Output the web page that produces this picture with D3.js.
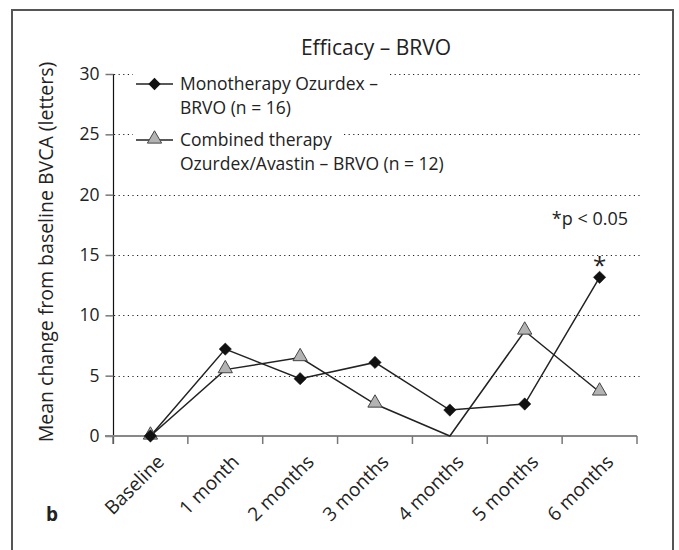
<!DOCTYPE html>
<html><head><meta charset="utf-8">
<script src="https://cdn.jsdelivr.net/npm/d3@7"></script>
<style>
html,body{margin:0;padding:0;background:#fff;}
text{font-family:"Open Sans",sans-serif;fill:#222;}
</style></head>
<body>
<svg id="c" width="679" height="550"></svg>
<script>
const categories = ["Baseline","1 month","2 months","3 months","4 months","5 months","6 months"];
const monoValues = [0, 7.2, 4.75, 6.1, 2.15, 2.65, 13.15];
const combinedValues = [0, 5.5, 6.5, 2.65, 0, 8.7, 3.65];
const combinedMarkerShown = [true, true, true, true, false, true, true];
const yTicks = [0, 5, 10, 15, 20, 25, 30];
const seriesNames = [["Monotherapy Ozurdex –", "BRVO (n = 16)"], ["Combined therapy", "Ozurdex/Avastin – BRVO (n = 12)"]];
const significantIndex = [6];

const svg = d3.select("#c");
// frame
svg.append("rect").attr("x",12).attr("y",10).attr("width",661).attr("height",560)
  .attr("fill","none").attr("stroke","#555").attr("stroke-width",2);

const x = d3.scaleBand().domain(categories).range([113,637]).padding(0);
const y = d3.scaleLinear().domain([0,30]).range([436,74]);
const cx = d => x(d) + x.bandwidth()/2;

// gridlines
svg.append("g").selectAll("line").data(yTicks.filter(t=>t>0)).join("line")
  .attr("x1",114).attr("x2",642).attr("y1",d=>Math.round(y(d))+0.5).attr("y2",d=>Math.round(y(d))+0.5)
  .attr("stroke","#222").attr("stroke-width",1).attr("stroke-dasharray","1.2,3.4");

// y axis
const yAxis = d3.axisLeft(y).tickValues(yTicks).tickSize(8).tickPadding(6);
const gy = svg.append("g").attr("transform","translate(113.5,0)").call(yAxis);
gy.select(".domain").attr("stroke","#111").attr("stroke-width",1.2).attr("d","M0,"+y(30)+"V"+(y(0)+8));
gy.selectAll(".tick line").attr("stroke","#777").attr("stroke-width",1.5);
gy.selectAll(".tick text").style("font-family","'Open Sans',sans-serif").attr("font-size",17.5).attr("fill","#222");

// x axis
const xAxis = d3.axisBottom(x).tickSize(0).tickFormat("");
const gx = svg.append("g").attr("transform","translate(0,"+y(0)+")").call(xAxis);
gx.select(".domain").attr("stroke","#888").attr("stroke-width",2).attr("d","M105,0H637");
const edges = d3.range(categories.length+1).map(i=>113+i*x.bandwidth());
gx.append("g").selectAll("line").data(edges).join("line")
  .attr("x1",d=>d).attr("x2",d=>d).attr("y1",0).attr("y2",8).attr("stroke","#777").attr("stroke-width",1.5);
svg.append("g").selectAll("text").data(categories).join("text")
  .attr("text-anchor","end").attr("font-size",19)
  .attr("transform",d=>"translate("+(cx(d)+15)+","+(y(0)+27)+") rotate(-45)")
  .text(d=>d);

// lines
const line = d3.line().x((v,i)=>cx(categories[i])).y(v=>y(v));
svg.append("path").attr("d",line(combinedValues)).attr("fill","none").attr("stroke","#222").attr("stroke-width",1.5);
svg.append("path").attr("d",line(monoValues)).attr("fill","none").attr("stroke","#222").attr("stroke-width",1.5);

const diamond = d3.symbol().type(d3.symbolSquare).size(76);
const tri = d3.symbol().type(d3.symbolTriangle).size(88);
svg.append("g").selectAll("path").data(combinedValues.map((v,i)=>({v,i})).filter(d=>combinedMarkerShown[d.i])).join("path")
  .attr("d",tri()).attr("transform",d=>"translate("+cx(categories[d.i])+","+(y(d.v)-1)+")")
  .attr("fill","#b3b3b3").attr("stroke","#444").attr("stroke-width",1);
svg.append("g").selectAll("path").data(monoValues.map((v,i)=>({v,i}))).join("path")
  .attr("d",diamond()).attr("transform",d=>"translate("+cx(categories[d.i])+","+y(d.v)+") rotate(45)")
  .attr("fill","#111").attr("stroke","#111").attr("stroke-width",0.5);

// significance asterisk
svg.append("g").selectAll("text").data(significantIndex).join("text")
  .attr("x",i=>cx(categories[i])).attr("y",i=>y(monoValues[i])-3).attr("text-anchor","middle")
  .attr("font-size",24).text("*");
svg.append("text").attr("x",628).attr("y",225).attr("text-anchor","end").attr("font-size",18).text("*p < 0.05");

// legend
const legRows = [{ly:84, ty:90}, {ly:140, ty:146}];
seriesNames.forEach((names,k)=>{
  const g = svg.append("g");
  const bg = g.append("rect").attr("fill","#fff");
  const t1 = g.append("text").attr("x",180).attr("y",legRows[k].ty).attr("font-size",17.5).text(names[0]);
  g.append("text").attr("x",180).attr("y",legRows[k].ty+23.5).attr("font-size",17.5).text(names[1]);
  const w = t1.node().getComputedTextLength();
  bg.attr("x",133).attr("y",legRows[k].ly-16).attr("width",180+w+12-133).attr("height",24);
  g.append("line").attr("x1",136).attr("x2",173).attr("y1",legRows[k].ly).attr("y2",legRows[k].ly).attr("stroke","#222").attr("stroke-width",1.5);
  if(k===0){
    g.append("path").attr("d",diamond()).attr("transform","translate(154.5,"+legRows[k].ly+") rotate(45)").attr("fill","#111");
  } else {
    g.append("path").attr("d",tri()).attr("transform","translate(154.5,"+(legRows[k].ly-1)+")").attr("fill","#b3b3b3").attr("stroke","#444");
  }
});

// title
svg.append("text").attr("x",376).attr("y",55).attr("text-anchor","middle").attr("font-size",21).text("Efficacy – BRVO");
// y label
svg.append("text").attr("transform","translate(53,252) rotate(-90)").attr("text-anchor","middle").attr("font-size",19.5).text("Mean change from baseline BVCA (letters)");
// panel letter
svg.append("text").attr("x",46).attr("y",521).attr("font-size",19).attr("font-weight","bold").text("b");
</script>
</body></html>
